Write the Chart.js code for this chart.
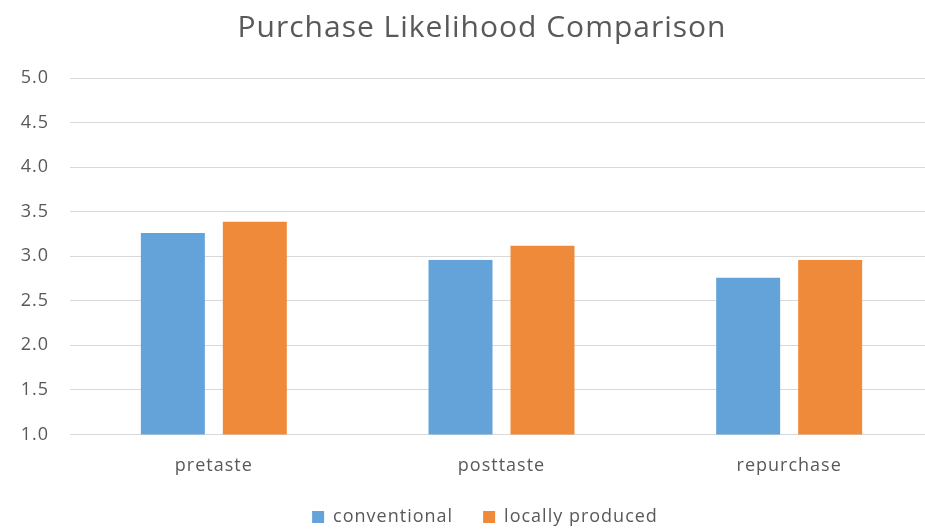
<!DOCTYPE html>
<html>
<head>
<meta charset="utf-8">
<script src="https://cdn.jsdelivr.net/npm/chart.js@4"></script>
<style>
  html, body { margin: 0; padding: 0; background: #fff; }
  #wrap { width: 925px; height: 531px; }
</style>
</head>
<body>
<div id="wrap"><canvas id="likelihoodChart" width="925" height="531"></canvas></div>
<script>
// data
const categories = ['pretaste', 'posttaste', 'repurchase'];
const conventional = [3.26, 2.96, 2.76];
const locallyProduced = [3.39, 3.12, 2.96];
const yTicks = [1.0, 1.5, 2.0, 2.5, 3.0, 3.5, 4.0, 4.5, 5.0];

const textColor = '#595959';
const fontFamily = '"Open Sans", "DejaVu Sans", sans-serif';

// the original is cropped: its plot runs a bit past the right edge
const plotRight = 933;

// slightly wide text like the original + small nudges of title and legend
const layoutTweaks = {
    id: 'layoutTweaks',
    beforeUpdate(chart) { chart.ctx.letterSpacing = '1px'; },
    beforeLayout(chart) { chart.ctx.letterSpacing = '1px'; },
    beforeDraw(chart) { chart.ctx.letterSpacing = '1px'; },
    afterLayout(chart) {
        chart.titleBlock.left += 25;
        chart.legend.left += 31;
        chart.legend.top -= 20;
        chart.legend.bottom -= 20;

        const area = chart.chartArea;
        area.right = plotRight;
        area.width = area.right - area.left;
        const x = chart.scales.x;
        x.right = plotRight;
        x.width = x.right - x.left;
        x.configure();
    }
};

const ctx = document.getElementById('likelihoodChart').getContext('2d');
const likelihoodChart = new Chart(ctx, {
    type: 'bar',
    data: {
        labels: categories,
        datasets: [{
            label: 'conventional',
            data: conventional,
            backgroundColor: '#63A3DA',
            borderColor: 'rgba(0,0,0,0)',
            borderWidth: { left: 9, right: 9, top: 0, bottom: 0 }
        }, {
            label: 'locally produced',
            data: locallyProduced,
            backgroundColor: '#EF8A3B',
            borderColor: 'rgba(0,0,0,0)',
            borderWidth: { left: 9, right: 9, top: 0, bottom: 0 }
        }]
    },
    options: {
        responsive: false,
        animation: false,
        layout: {
            padding: { left: 17, right: 3, top: 0, bottom: -25 }
        },
        datasets: {
            bar: {
                categoryPercentage: 0.57,
                barPercentage: 1.0
            }
        },
        scales: {
            y: {
                min: 1,
                max: 5,
                afterFit: function(scale) { scale.width = 53; },
                afterBuildTicks: function(scale) {
                    scale.ticks = yTicks.map(v => ({ value: v }));
                },
                ticks: {
                    padding: 21,
                    color: textColor,
                    font: { family: fontFamily, size: 18 },
                    callback: v => Number(v).toFixed(1)
                },
                grid: {
                    color: '#D9D9D9',
                    drawTicks: false
                },
                border: { display: false }
            },
            x: {
                grid: { display: false, drawTicks: false },
                border: { display: false },
                ticks: {
                    padding: 21,
                    color: textColor,
                    font: { family: fontFamily, size: 18 }
                }
            }
        },
        plugins: {
            title: {
                display: true,
                text: 'Purchase Likelihood Comparison',
                color: textColor,
                font: { family: fontFamily, size: 30, weight: 'normal' },
                padding: { top: 10, bottom: 32 }
            },
            legend: {
                position: 'bottom',
                labels: {
                    color: textColor,
                    boxWidth: 12,
                    boxHeight: 12,
                    padding: 30,
                    font: { family: fontFamily, size: 18 }
                }
            },
            tooltip: { enabled: false }
        }
    },
    plugins: [layoutTweaks]
});
</script>
</body>
</html>
